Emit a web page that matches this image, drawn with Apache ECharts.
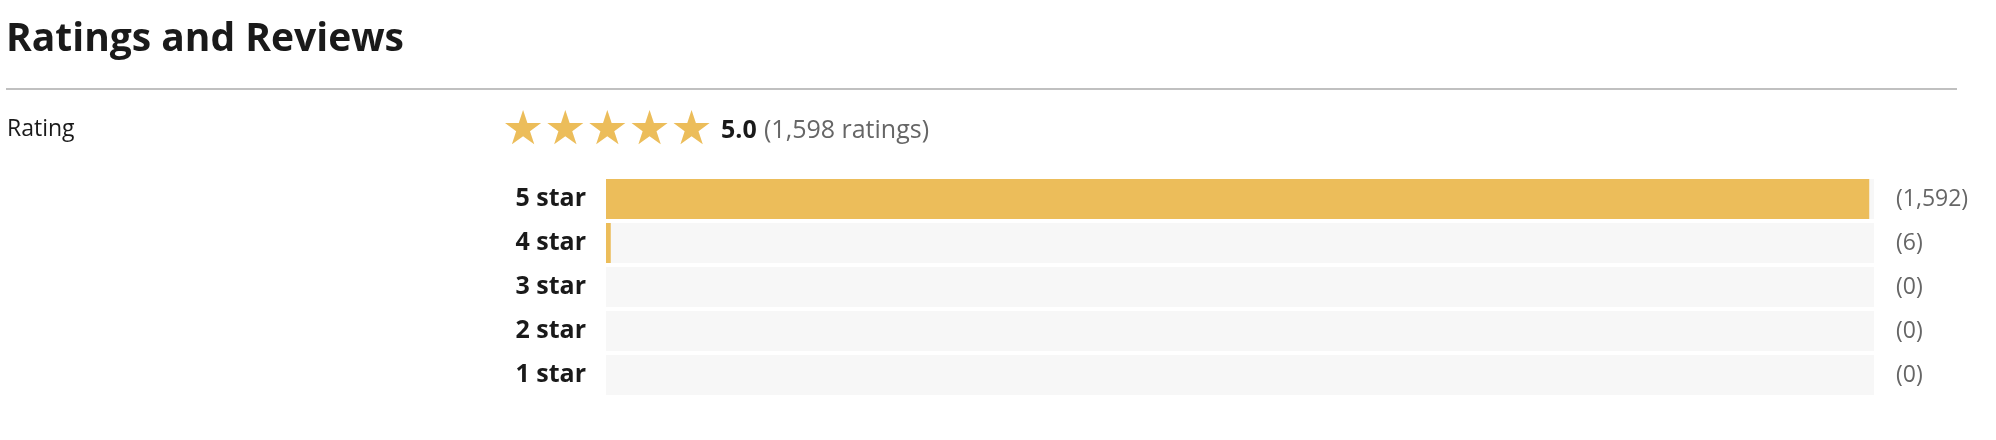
<!DOCTYPE html>
<html><head><meta charset="utf-8">
<script src="https://cdn.jsdelivr.net/npm/echarts@6/dist/echarts.min.js"></script>
<style>html,body{margin:0;padding:0;background:#fff}#c{width:1996px;height:440px}</style>
</head><body><div id="c"></div>
<script>
const categories = ['5 star','4 star','3 star','2 star','1 star'];
const counts = [1592, 6, 0, 0, 0];
const total = 1598;
const average = '5.0';
const F = '"Open Sans", "Noto Sans", sans-serif';
const fmt = n => '(' + n.toLocaleString('en-US') + ')';
const chart = echarts.init(document.getElementById('c'));
chart.setOption({
  animation:false,
  grid:{left:606,right:122,top:177,bottom:43},
  xAxis:{type:'value',min:0,max:total,show:false},
  yAxis:[
    {type:'category',data:categories,inverse:true,axisLine:{show:false},axisTick:{show:false},
     axisLabel:{color:'#1a1a1a',fontWeight:'bold',fontSize:25,fontFamily:F,margin:20}},
    {type:'category',data:counts.map(fmt),inverse:true,position:'right',axisLine:{show:false},axisTick:{show:false},
     axisLabel:{color:'#666',fontSize:23,fontFamily:F,margin:22,align:'left'}}
  ],
  series:[{type:'bar',data:counts,barWidth:40,itemStyle:{color:'#ecbd5a'},
    showBackground:true,backgroundStyle:{color:'#f7f7f7'}}],
  graphic:[
    {type:'text',left:6,top:20,style:{text:'Ratings and Reviews',font:'bold 39px '+F,fill:'#1a1a1a'}},
    {type:'rect',shape:{x:6,y:88,width:1951,height:2},style:{fill:'#c0c0c0'}},
    {type:'text',left:7,top:118,style:{text:'Rating',font:'23px '+F,fill:'#1a1a1a'}},
    {type:'text',left:502,top:108,style:{text:'★★★★★',font:'47px "DejaVu Sans"',fill:'#ecbd5a'}},
    {type:'text',left:721,top:118,style:{text:average,font:'bold 25px '+F,fill:'#1a1a1a'}},
    {type:'text',left:764,top:118,style:{text:'(' + total.toLocaleString('en-US') + ' ratings)',font:'25px '+F,fill:'#666'}}
  ]
});
</script></body></html>
